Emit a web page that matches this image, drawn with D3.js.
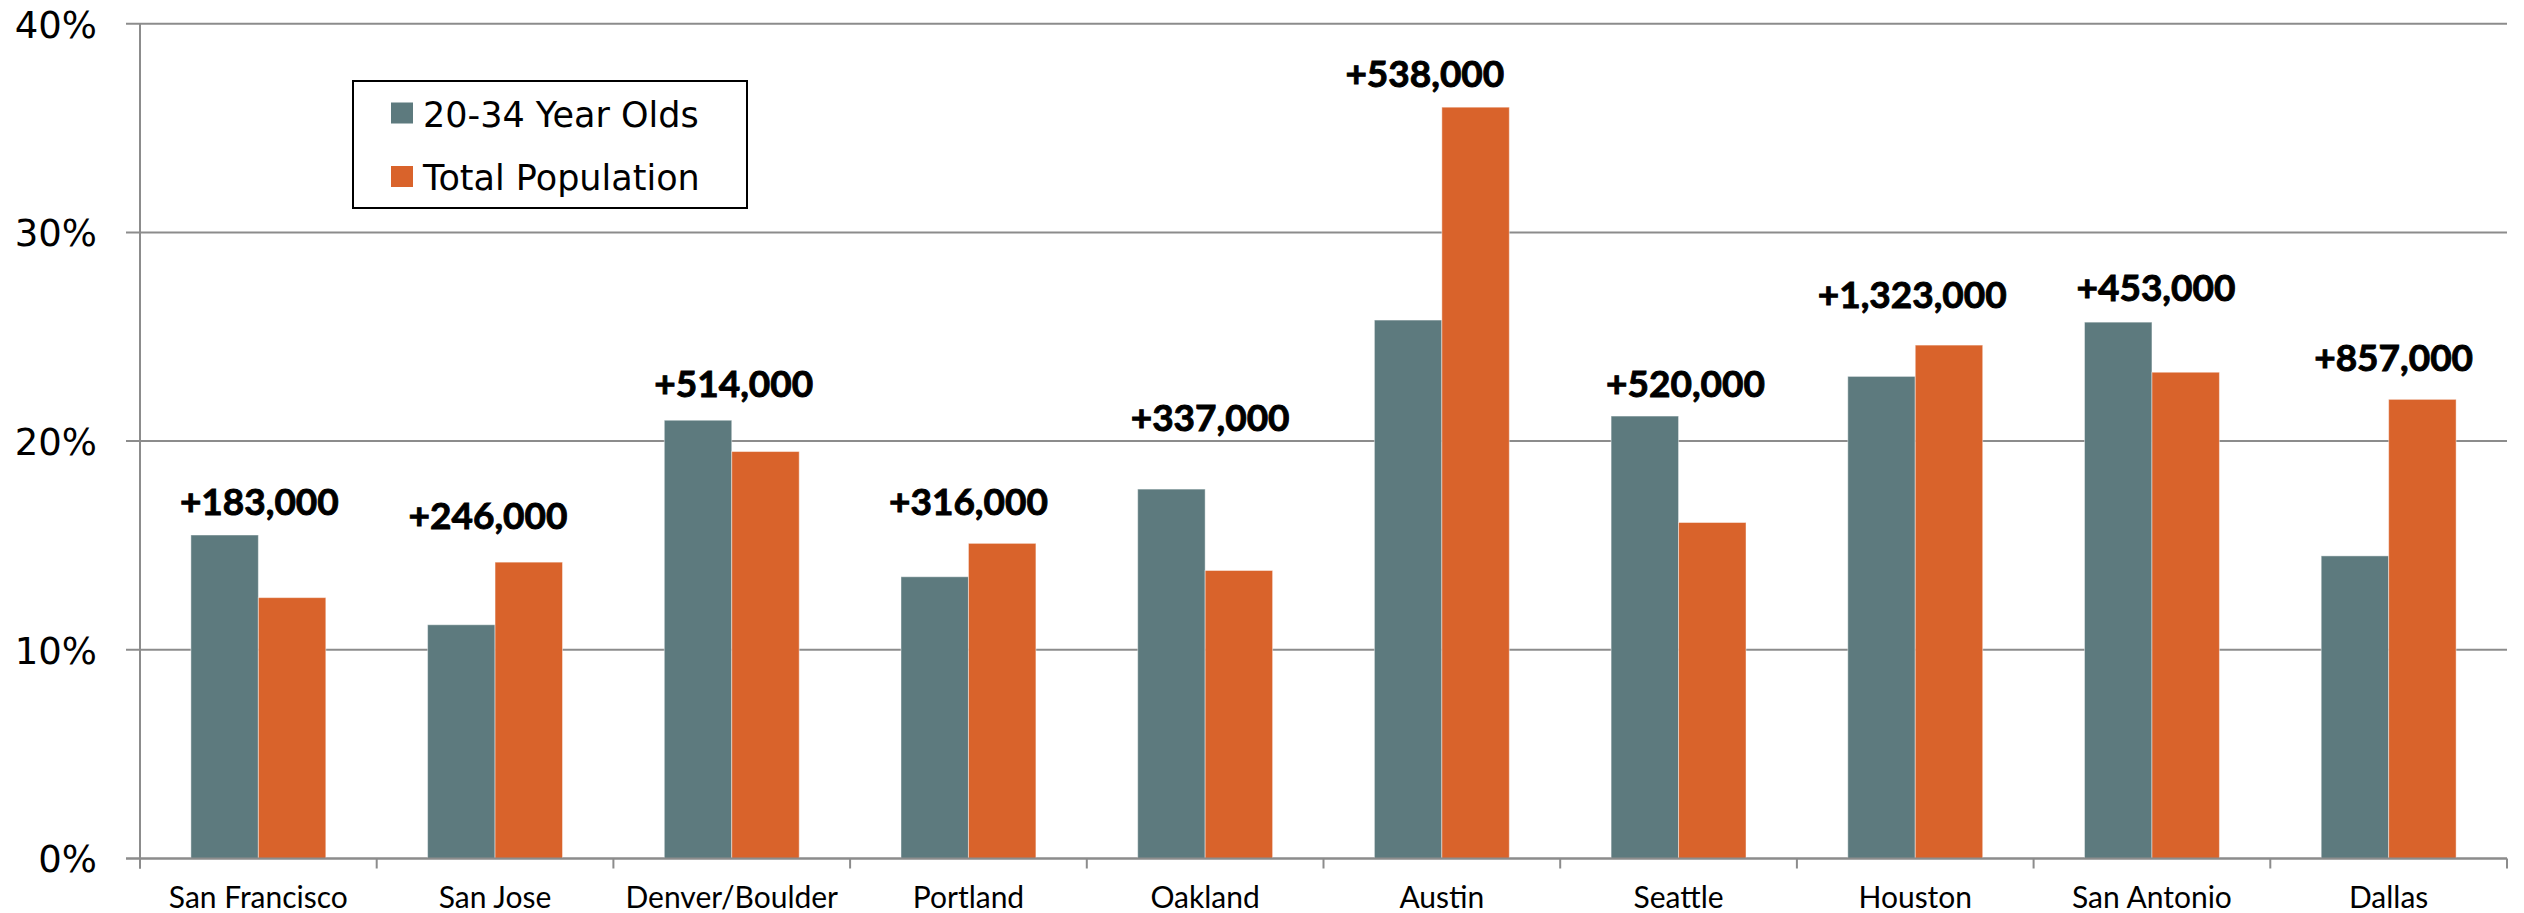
<!DOCTYPE html>
<html>
<head>
<meta charset="utf-8">
<script src="https://cdn.jsdelivr.net/npm/d3@7"></script>
<style>
  html, body { margin: 0; padding: 0; background: #ffffff; }
  svg { display: block; }
</style>
</head>
<body>
<script>
// Population growth by metro: share growth of 20-34 year olds vs total population
const cities = ["San Francisco", "San Jose", "Denver/Boulder", "Portland", "Oakland",
                "Austin", "Seattle", "Houston", "San Antonio", "Dallas"];
const youngAdults = [15.5, 11.2, 21.0, 13.5, 17.7, 25.8, 21.2, 23.1, 25.7, 14.5];
const totalPop    = [12.5, 14.2, 19.5, 15.1, 13.8, 36.0, 16.1, 24.6, 23.3, 22.0];
const popGain = ["+183,000", "+246,000", "+514,000", "+316,000", "+337,000",
                 "+538,000", "+520,000", "+1,323,000", "+453,000", "+857,000"];
const seriesNames = ["20-34 Year Olds", "Total Population"];
const yTicks = [0, 10, 20, 30, 40];

const W = 2524, H = 913;
const plot = { left: 140, right: 2507, top: 23.7, bottom: 858.5 };
const colors = ["#5d7a7e", "#d9632b"];
const gridColor = "#8c8c8c";

// per-label placement: [horizontal nudge, lift above the taller bar] in px
const labelNudge = [[1, 20], [-7, 33], [2, 23], [0, 28], [5, 58],
                    [-17, 20], [7, 19], [-3, 37], [4, 21], [5, 28]];

const svg = d3.select("body").append("svg")
  .attr("width", W).attr("height", H);
svg.append("rect").attr("width", W).attr("height", H).attr("fill", "#fff");

const x = d3.scaleBand().domain(cities).range([plot.left, plot.right]).padding(0);
const y = d3.scaleLinear().domain([0, 40]).range([plot.bottom, plot.top]);
const groupW = x.bandwidth() * 0.57;
const x1 = d3.scaleBand().domain(seriesNames)
  .range([(x.bandwidth() - groupW) / 2, (x.bandwidth() + groupW) / 2]).padding(0);

// horizontal gridlines with short ticks left of the axis
svg.append("g").selectAll("line").data(yTicks).join("line")
  .attr("x1", 126).attr("x2", plot.right)
  .attr("y1", d => y(d)).attr("y2", d => y(d))
  .attr("stroke", gridColor).attr("stroke-width", 2);

// y tick labels
const yAxis = svg.append("g").attr("transform", `translate(126,0)`)
  .call(d3.axisLeft(y).tickValues(yTicks).tickSize(0).tickPadding(29)
    .tickFormat(d => d + "%"));
yAxis.select(".domain").remove();
yAxis.selectAll("text")
  .attr("font-family", "DejaVu Sans").attr("font-size", 37)
  .attr("fill", "#000").attr("dy", "0.36em");

// bars
const rows = cities.map((c, i) => ({ city: c, values: [youngAdults[i], totalPop[i]] }));
const groups = svg.append("g").selectAll("g").data(rows).join("g")
  .attr("transform", d => `translate(${x(d.city)},0)`);
groups.selectAll("rect").data(d => d.values.map((v, k) => ({ key: seriesNames[k], v, k })))
  .join("rect")
  .attr("x", d => x1(d.key))
  .attr("width", x1.bandwidth())
  .attr("y", d => y(d.v))
  .attr("height", d => y(0) - y(d.v))
  .attr("fill", d => colors[d.k])
  .attr("stroke", "rgba(255,255,255,0.45)").attr("stroke-width", 1);

// population gain labels above each pair
svg.append("g").selectAll("text").data(rows).join("text")
  .attr("x", (d, i) => x(d.city) + x.bandwidth() / 2 + labelNudge[i][0])
  .attr("y", (d, i) => y(Math.max(...d.values)) - labelNudge[i][1])
  .attr("text-anchor", "middle")
  .attr("font-family", "Lato").attr("font-weight", 700).attr("font-size", 37)
  .attr("fill", "#000").attr("stroke", "#000").attr("stroke-width", 0.9)
  .text((d, i) => popGain[i]);

// vertical axis line
svg.append("line")
  .attr("x1", plot.left).attr("x2", plot.left)
  .attr("y1", plot.top).attr("y2", plot.bottom + 10)
  .attr("stroke", gridColor).attr("stroke-width", 2);

// category boundary ticks on the baseline
const bounds = cities.map(c => x(c)).concat([plot.right]);
svg.append("g").selectAll("line").data(bounds).join("line")
  .attr("x1", d => d).attr("x2", d => d)
  .attr("y1", plot.bottom).attr("y2", plot.bottom + 10)
  .attr("stroke", gridColor).attr("stroke-width", 2);

// baseline
svg.append("line")
  .attr("x1", 126).attr("x2", plot.right)
  .attr("y1", y(0)).attr("y2", y(0))
  .attr("stroke", gridColor).attr("stroke-width", 2);

// category labels
const xAxis = svg.append("g").attr("transform", `translate(0,${plot.bottom})`)
  .call(d3.axisBottom(x).tickSize(0).tickPadding(0));
xAxis.select(".domain").remove();
xAxis.selectAll("text")
  .attr("font-family", "Lato").attr("font-size", 30).attr("fill", "#000")
  .attr("dy", null).attr("y", 49);

// legend
const lg = svg.append("g");
lg.append("rect").attr("x", 353).attr("y", 81).attr("width", 394).attr("height", 127)
  .attr("fill", "#fff").attr("stroke", "#000").attr("stroke-width", 2);
seriesNames.forEach((name, k) => {
  const cy = 113 + k * 63.5;
  lg.append("rect").attr("x", 391).attr("y", cy - 10.5).attr("width", 22).attr("height", 21)
    .attr("fill", colors[k]);
  lg.append("text").attr("x", 423).attr("y", cy + 13.5)
    .attr("font-family", "DejaVu Sans").attr("font-size", 35).attr("fill", "#000")
    .text(name);
});
</script>
</body>
</html>
